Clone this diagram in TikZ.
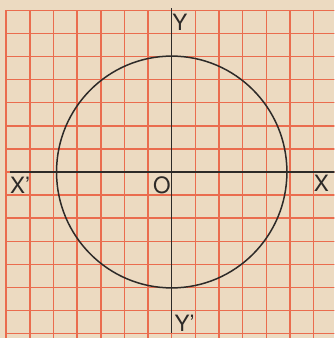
\documentclass[tikz,border=0pt]{standalone}
\usepackage{fontspec}
\setmainfont{TeX Gyre Heros}
\definecolor{paper}{RGB}{236,218,193}
\definecolor{gridred}{RGB}{234,108,78}
\definecolor{ink}{RGB}{45,42,40}

\begin{document}
\begin{tikzpicture}[x=14.2pt, y=13.86pt, font=\fontsize{13.5}{15}\selectfont,
    lbl/.style={inner sep=0pt, text=ink}]
    \useasboundingbox[fill=paper] (-7.26, -7.19) rectangle (6.88, 7.45);
    \clip (-7.26, -7.19) rectangle (6.88, 7.45);
    \foreach \i in {-7,...,7} {
        \draw[gridred, line width=0.9pt] (\i, -7.5) -- (\i, 7);
        \draw[gridred, line width=0.9pt] (-7, \i) -- (7.5, \i);
    }
    \coordinate (O) at (0, 0);
    \coordinate (xl) at (-6.84, 0);
    \coordinate (xr) at (6.9, 0);
    \coordinate (yt) at (0, 7.1);
    \coordinate (yb) at (0, -6.97);
    \draw[ink, line width=0.9pt] (xl) -- (xr);
    \draw[ink, line width=0.9pt] (yt) -- (yb);
    \draw[ink, line width=0.9pt] (O) circle[x radius=4.87, y radius=5.02];
    \node[lbl] (ylab) at (0.34, 6.49) {Y};
    \node[lbl] (yplab) at (0.55, -6.54) {Y’};
    \node[lbl] (xplab) at (-6.41, -0.56) {X’};
    \node[lbl] (xlab) at (6.33, -0.48) {X};
    \node[lbl] (olab) at (-0.42, -0.56) {O};
\end{tikzpicture}
\end{document}
